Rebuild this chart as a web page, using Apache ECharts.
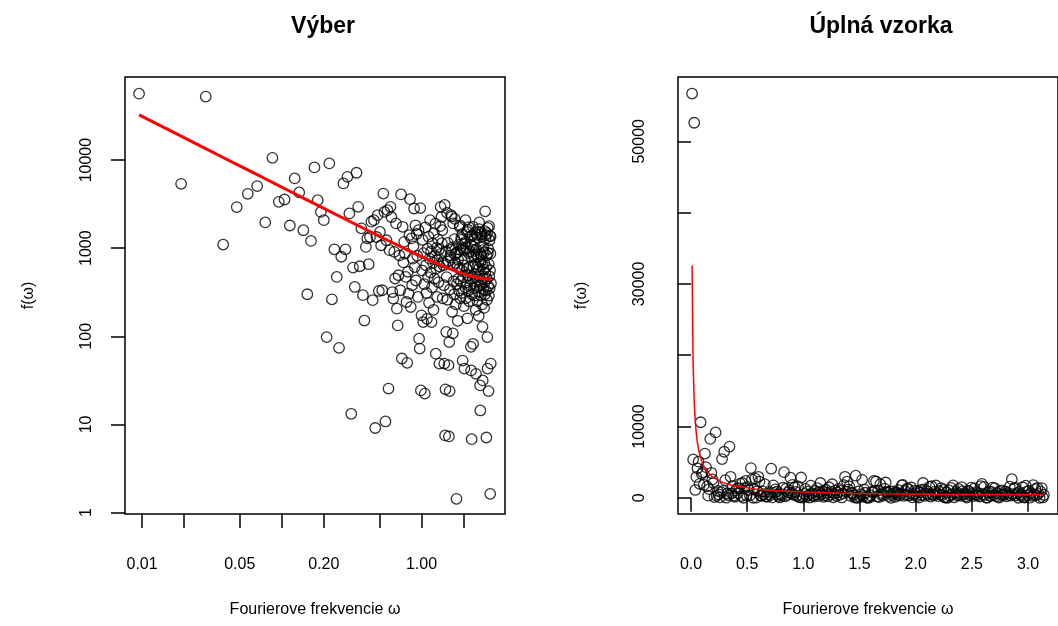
<!DOCTYPE html>
<html><head><meta charset="utf-8">
<script src="https://cdn.jsdelivr.net/npm/echarts@6/dist/echarts.min.js"></script>
<style>html,body{margin:0;padding:0;background:#fff}#c{width:1058px;height:626px}</style>
</head><body><div id="c"></div>
<script>
// Periodogram ordinates f(omega_k), k = 1..330
const periodogram = [
56700,5380,52600,1100,2930,4140,5070,1960,10600,3360,
3570,1810,6200,4300,1600,300,1210,8260,3510,2580,
2080,98,9170,263,970,472,74,800,5430,970,
6460,2480,13.2,603,363,7180,2950,624,1680,293,
151,1035,1290,658,1340,2000,257,2080,9.1,1340,
2370,327,1530,1080,333,4170,2580,10.8,1230,2700,
25.5,950,2950,2260,318,268,910,453,1910,206,
133,493,830,333,4080,56,1750,690,1180,870,
472,245,50,540,305,1410,3600,215,1290,380,
760,1050,2820,610,1820,430,1450,820,280,1600,
94,72.5,2850,24.3,173,560,1240,145,880,390,
22.4,1720,640,310,158,990,470,1350,240,760,
2080,530,920,145,360,1130,680,200,1480,450,
820,1900,63.5,590,1010,280,730,1260,410,960,
49,620,1780,2950,860,2260,1140,1600,270,690,
640,380,49,3100,7.5,25,920,112,470,2520,
260,1150,710,47,7.3,86,23.9,340,830,780,
2370,960,2290,190,1020,108,1910,420,650,300,
1270,2150,840,680,230,880,1.43,390,900,610,
150,740,450,1090,330,590,1750,1820,270,960,
420,1300,1240,310,560,1450,53,470,1000,640,
220,950,43,760,1120,360,2080,1180,270,1010,
580,410,1530,160,1620,490,330,880,1730,610,
250,920,450,1340,380,1100,76,41,790,6.8,
1060,300,1400,460,1750,82,620,820,350,1250,
510,290,1500,930,420,660,200,37.5,970,850,
360,1420,610,250,1320,440,800,320,580,170,
1650,1960,480,1530,380,27.7,14.4,700,860,290,
820,1440,390,1350,230,650,128,31.6,950,450,
1040,340,570,900,210,680,410,1560,300,2620,
520,1290,1410,330,610,7.1,830,450,260,1480,
98,43,1700,880,370,980,23.9,660,290,1780,
480,1230,350,1380,560,1.63,870,1360,49,400
];
const sampleSize = 660; // series length; Fourier frequencies are 2*pi*k/n
// Fitted spectral density (red curve), values read at selected k
const fitK = [1,2,3,4,5,6,7,8,10,12,15,20,30,40,60,80,105,140,180,220,260,300,330];
const fitValues = [32590,18680,13490,10700,8950,7730,6830,6140,5130,4430,3700,2945,2130,1694,1230,985,803,655,557,499,465,448,444];

const leftXTicks = [0.01,0.02,0.05,0.1,0.2,0.5,1,2];
const leftXLabels = [0.01,0.05,0.2,1];
const leftYTicks = [1,10,100,1000,10000];
const rightXTicks = [0,0.5,1,1.5,2,2.5,3];
const rightYTicks = [0,10000,20000,30000,40000,50000];
const rightYLabels = [0,10000,30000,50000];

const titles = ['Výber','Úplná vzorka'];
const xName = 'Fourierove frekvencie ω';
const yName = 'f(ω)';

const FONT = '"Liberation Sans", Arial, Helvetica, sans-serif';
const freqOf = k => 2*Math.PI*k/sampleSize;
const points = periodogram.map((v,i)=>[freqOf(i+1), v]);
const fitLine = fitK.map((k,i)=>[freqOf(k), fitValues[i]]);

function axisBase(){
  return {
    axisLine:{show:false},
    axisTick:{show:true, inside:false, length:14, lineStyle:{color:'#000', width:1.5}},
    splitLine:{show:false},
    axisLabel:{color:'#000', fontSize:16, fontFamily:FONT},
    nameLocation:'middle',
    nameTextStyle:{color:'#000', fontSize:16, fontFamily:FONT}
  };
}
function xAx(idx, type, min, max, ticks, labels, fmt){
  const a = axisBase();
  return Object.assign(a, {
    type, gridIndex: idx, min, max, name: xName, nameGap: 88,
    axisTick: Object.assign(a.axisTick, {customValues: ticks}),
    axisLabel: Object.assign(a.axisLabel, {customValues: labels, margin: 43, formatter: fmt})
  });
}
function yAx(idx, type, min, max, ticks, labels, fmt){
  const a = axisBase();
  return Object.assign(a, {
    type, gridIndex: idx, min, max, name: yName, nameGap: 88,
    axisTick: Object.assign(a.axisTick, {customValues: ticks}),
    axisLabel: Object.assign(a.axisLabel, {customValues: labels, margin: 30, rotate: 90, formatter: fmt})
  });
}

const chart = echarts.init(document.getElementById('c'), null, {renderer:'canvas'});
chart.setOption({
  animation:false,
  backgroundColor:'#fff',
  title:[
    {text:titles[0], left:318, top:10, textAlign:'center', textStyle:{fontSize:23, fontWeight:'bold', color:'#000', fontFamily:FONT}},
    {text:titles[1], left:876, top:10, textAlign:'center', textStyle:{fontSize:23, fontWeight:'bold', color:'#000', fontFamily:FONT}}
  ],
  grid:[
    {left:125, top:77, width:380, height:437, show:true, borderColor:'#000', borderWidth:1.5, backgroundColor:'transparent'},
    {left:678, top:77, width:382, height:437, show:true, borderColor:'#000', borderWidth:1.5, backgroundColor:'transparent'}
  ],
  xAxis:[
    xAx(0,'log',0.00755,3.96,leftXTicks,leftXLabels,v=>Number(v).toFixed(2)),
    xAx(1,'value',-0.1158,3.2669,rightXTicks,rightXTicks,v=>Number(v).toFixed(1))
  ],
  yAxis:[
    yAx(0,'log',0.962,87700,leftYTicks,leftYTicks,v=>String(Math.round(v))),
    yAx(1,'value',-2270,59020,rightYTicks,rightYLabels,v=>String(Math.round(v)))
  ],
  series:[
    {type:'scatter', xAxisIndex:0, yAxisIndex:0, data:points, symbol:'circle', symbolSize:10.5,
     itemStyle:{color:'rgba(0,0,0,0)', borderColor:'#000', borderWidth:1.3}, silent:true, z:2},
    {type:'line', xAxisIndex:0, yAxisIndex:0, data:fitLine, showSymbol:false, smooth:false,
     lineStyle:{color:'#ff0000', width:3}, silent:true, z:3},
    {type:'scatter', xAxisIndex:1, yAxisIndex:1, data:points, symbol:'circle', symbolSize:10.5,
     itemStyle:{color:'rgba(0,0,0,0)', borderColor:'#000', borderWidth:1.3}, silent:true, z:2},
    {type:'line', xAxisIndex:1, yAxisIndex:1, data:fitLine, showSymbol:false, smooth:false,
     lineStyle:{color:'#ff0000', width:1.5}, silent:true, z:3}
  ]
});
</script></body></html>
